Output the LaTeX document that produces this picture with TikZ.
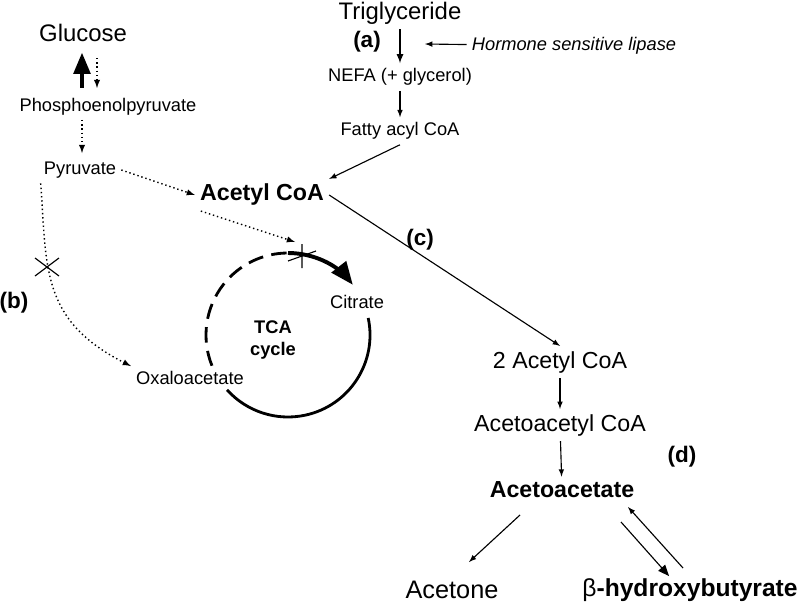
\documentclass[tikz,border=0pt]{standalone}
\usepackage{fontspec}
\setmainfont{Liberation Sans}
\usetikzlibrary{arrows}
\begin{document}
\begin{tikzpicture}[x=0.025cm,y=-0.025cm,line width=0.8pt,
  lab/.style={font=\fontsize{13}{15}\selectfont},
  big/.style={font=\fontsize{16.5}{19}\selectfont},
  bigb/.style={font=\fontsize{16.5}{19}\selectfont\bfseries},
  tag/.style={font=\fontsize{16}{19}\selectfont\bfseries},
  dot/.style={dotted,line width=1pt},
  >=latex]
  \useasboundingbox (0,0) rectangle (800,610);
  % substrates
  \node[font=\fontsize{17}{20}\selectfont](glc)at(83,33){Glucose};
  \node[font=\fontsize{17}{20}\selectfont](tg)at(400,13){Triglyceride};
  \node[tag](a)at(367,42){(a)};
  \node[font=\fontsize{13}{15}\selectfont\itshape](hsl)at(574,46){Hormone sensitive lipase};
  \node[lab](nefa)at(400,77){NEFA (+ glycerol)};
  \node[lab](fac)at(400,131){Fatty acyl CoA};
  \node[lab](pep)at(108,107){Phosphoenolpyruvate};
  \node[lab](pyr)at(80,170){Pyruvate};
  \node[bigb](acoa)at(262,195){Acetyl CoA};
  \node[tag](c)at(420,240){(c)};
  \node[tag](b)at(14,303){(b)};
  \node[lab](cit)at(357,302){Citrate};
  \node[font=\fontsize{13}{15.5}\selectfont\bfseries,align=center](tca)at(273,340){TCA\\cycle};
  \node[lab](oaa)at(190,378){Oxaloacetate};
  \node[big](acoa2)at(560,362){2 Acetyl CoA};
  \node[big](aacoa)at(560,425){Acetoacetyl CoA};
  \node[tag](d)at(682,457){(d)};
  \node[bigb](aac)at(562,490){Acetoacetate};
  \node[font=\fontsize{18}{21}\selectfont](acet)at(452,590){Acetone};
  \node[font=\fontsize{17.5}{21}\selectfont\bfseries](bhb)at(690,590){{\mdseries β}-hydroxybutyrate};
  \coordinate(hslend)at(425,44);
  \coordinate(xo)at(47,267);
  \coordinate(xc)at(302,256);
  \coordinate(glcup)at(82,88);
  \coordinate(glcup2)at(82,53);
  \coordinate(glcdn)at(97,58);
  \coordinate(glcdn2)at(97,88);
  \coordinate(pepdn)at(82,120);
  \coordinate(pyrup)at(82,153);
  \coordinate(tcain)at(295,242);
  \coordinate(aacl)at(520,515);
  \coordinate(acetin)at(469,562);
  \coordinate(aacr)at(621,522);
  \coordinate(bhbin)at(669,576);
  \coordinate(bhbout)at(683,568);
  \coordinate(aacin)at(628,507);
  % arrows
  \draw[->,line width=1.2pt](tg)--(nefa);
  \draw[->](hsl)--(hslend);
  \draw[->](nefa)--(fac);
  \draw[->](fac.south)--(acoa.north east);
  \draw[-triangle 45,line width=2.5pt](glcup)--(glcup2);
  \draw[->,dot](glcdn)--(glcdn2);
  \draw[->,dot](pepdn)--(pyrup);
  \draw[->,dot](pyr.east)--(acoa.west);
  \draw[->,dot](pyr.south west)++(2,0)..controls(xo)and(40,320)..(oaa.north west);
  \draw[->,dot](acoa.south west)++(6,0)--(tcain);
  % TCA cycle
  \draw[line width=2pt,dash pattern=on 11pt off 6pt](288,335)++(158:82)arc[start angle=158,end angle=270,radius=82];
  \draw[-triangle 45,line width=2.8pt](288,335)++(270:82)arc[start angle=270,end angle=322,radius=82];
  \draw[line width=2pt](288,335)++(-12:82)arc[start angle=-12,end angle=138,radius=82];
  % blocks
  \draw(xo)++(-12,-9)--++(24,18) (xo)++(-12,9)--++(24,-18);
  \draw(xc)++(-14,5)--++(28,-10) (xc)++(0,-12)--++(0,24);
  % ketogenesis
  \draw[->](acoa.east)--(acoa2.north);
  \draw[->](acoa2)--(aacoa);
  \draw[->](aacoa)--(aac);
  \draw[->](aacl)--(acetin);
  \draw[-triangle 45](aacr)--(bhbin);
  \draw[->](bhbout)--(aacin);
\end{tikzpicture}
\end{document}
